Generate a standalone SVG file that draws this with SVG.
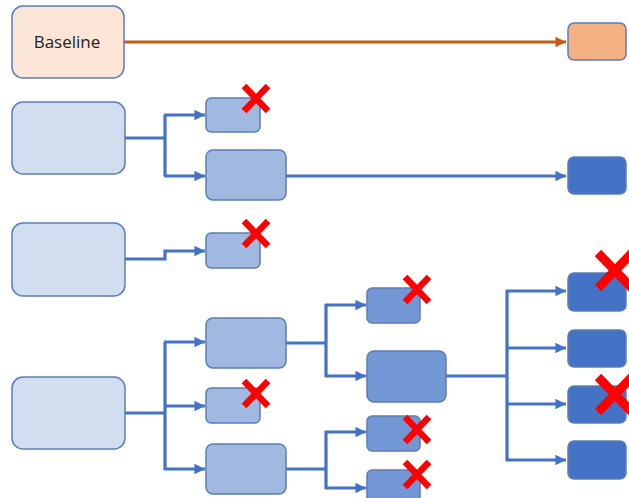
<svg xmlns="http://www.w3.org/2000/svg" width="629" height="498" viewBox="0 0 629 498">
<defs>
<marker id="ab" viewBox="0 0 10 10" refX="10" refY="5" markerWidth="3.6" markerHeight="3.3" markerUnits="strokeWidth" orient="auto"><path d="M0,0 L10,5 L0,10 z" fill="#4472C4"/></marker>
<marker id="ao" viewBox="0 0 10 10" refX="10" refY="5" markerWidth="3.6" markerHeight="3.3" markerUnits="strokeWidth" orient="auto"><path d="M0,0 L10,5 L0,10 z" fill="#C55A11"/></marker>
<style>
.n rect{stroke:#5B7DB5;stroke-width:1.5}
.l1{fill:#D0DEF0}
.l2{fill:#A1B9E0}
.l3{fill:#7397D4}
.l4{fill:#4472C4}
.c path{fill:none;stroke:#4472C4;stroke-width:3.2}
.x path{stroke:#FF0000;fill:none}
.xs path{stroke-width:6.5}
.xb path{stroke-width:9}
text{font-family:"Open Sans","Liberation Sans",sans-serif;font-size:17px;fill:#222}
</style>
</defs>
<g id="connectors" class="c">
<path d="M124,42 H566" style="stroke:#C55A11" marker-end="url(#ao)"/>
<path d="M125,138 H165 M165,115 V176"/>
<path d="M164,115 H205" marker-end="url(#ab)"/>
<path d="M164,176 H205" marker-end="url(#ab)"/>
<path d="M286,176 H566" marker-end="url(#ab)"/>
<path d="M125,259 H165 V251 H205" marker-end="url(#ab)"/>
<path d="M125,413 H165 M165,342 V470"/>
<path d="M164,342 H205" marker-end="url(#ab)"/>
<path d="M164,406 H205" marker-end="url(#ab)"/>
<path d="M164,469 H205" marker-end="url(#ab)"/>
<path d="M286,343 H326 M326,304 V377"/>
<path d="M325,305 H366" marker-end="url(#ab)"/>
<path d="M325,376 H366" marker-end="url(#ab)"/>
<path d="M286,469 H326 M326,431 V489"/>
<path d="M325,432 H366" marker-end="url(#ab)"/>
<path d="M325,488 H366" marker-end="url(#ab)"/>
<path d="M446,376 H507 M507,290 V461"/>
<path d="M506,291 H566" marker-end="url(#ab)"/>
<path d="M506,348 H566" marker-end="url(#ab)"/>
<path d="M506,404 H566" marker-end="url(#ab)"/>
<path d="M506,460 H566" marker-end="url(#ab)"/>
</g>
<g id="baseline" class="n"><rect x="12" y="6" width="112" height="72" rx="11" fill="#FBE5D6"/><text x="67" y="48" text-anchor="middle">Baseline</text></g>
<g id="baseline-out" class="n"><rect x="568" y="23" width="58" height="37" rx="6" fill="#F4B183"/></g>
<g id="r2-root" class="n"><rect class="l1" x="12" y="102" width="113" height="72" rx="11"/></g>
<g id="r2-a" class="n"><rect class="l2" x="206" y="98" width="54" height="34" rx="5"/></g>
<g id="r2-b" class="n"><rect class="l2" x="206" y="150" width="80" height="50" rx="7"/></g>
<g id="r2-out" class="n"><rect class="l4" x="568" y="157" width="58" height="37" rx="6"/></g>
<g id="r3-root" class="n"><rect class="l1" x="12" y="223" width="113" height="73" rx="11"/></g>
<g id="r3-a" class="n"><rect class="l2" x="206" y="233" width="54" height="35" rx="5"/></g>
<g id="r4-root" class="n"><rect class="l1" x="12" y="377" width="113" height="72" rx="11"/></g>
<g id="r4-a" class="n"><rect class="l2" x="206" y="318" width="80" height="50" rx="7"/></g>
<g id="r4-b" class="n"><rect class="l2" x="206" y="388" width="54" height="35" rx="5"/></g>
<g id="r4-c" class="n"><rect class="l2" x="206" y="444" width="80" height="50" rx="7"/></g>
<g id="r4-d" class="n"><rect class="l3" x="367" y="288" width="53" height="35" rx="5"/></g>
<g id="r4-e" class="n"><rect class="l3" x="367" y="351" width="79" height="51" rx="7"/></g>
<g id="r4-f" class="n"><rect class="l3" x="367" y="416" width="53" height="35" rx="5"/></g>
<g id="r4-g" class="n"><rect class="l3" x="367" y="470" width="53" height="35" rx="5"/></g>
<g id="r4-o1" class="n"><rect class="l4" x="568" y="273" width="58" height="38" rx="6"/></g>
<g id="r4-o2" class="n"><rect class="l4" x="568" y="330" width="58" height="37" rx="6"/></g>
<g id="r4-o3" class="n"><rect class="l4" x="568" y="386" width="58" height="37" rx="6"/></g>
<g id="r4-o4" class="n"><rect class="l4" x="568" y="441" width="58" height="38" rx="6"/></g>
<g id="crosses" class="x">
<g class="xs"><path d="M244,86 L268,111 M268,86 L244,111"/></g>
<g class="xs"><path d="M244,221 L268,246 M268,221 L244,246"/></g>
<g class="xs"><path d="M244,381 L268,406 M268,381 L244,406"/></g>
<g class="xs"><path d="M405,277 L429,302 M429,277 L405,302"/></g>
<g class="xs"><path d="M405,417 L429,442 M429,417 L405,442"/></g>
<g class="xs"><path d="M405,462 L429,487 M429,462 L405,487"/></g>
<g class="xb"><path d="M598,253 L632,288 M632,253 L598,288"/></g>
<g class="xb"><path d="M598,377 L632,412 M632,377 L598,412"/></g>
</g>
</svg>
